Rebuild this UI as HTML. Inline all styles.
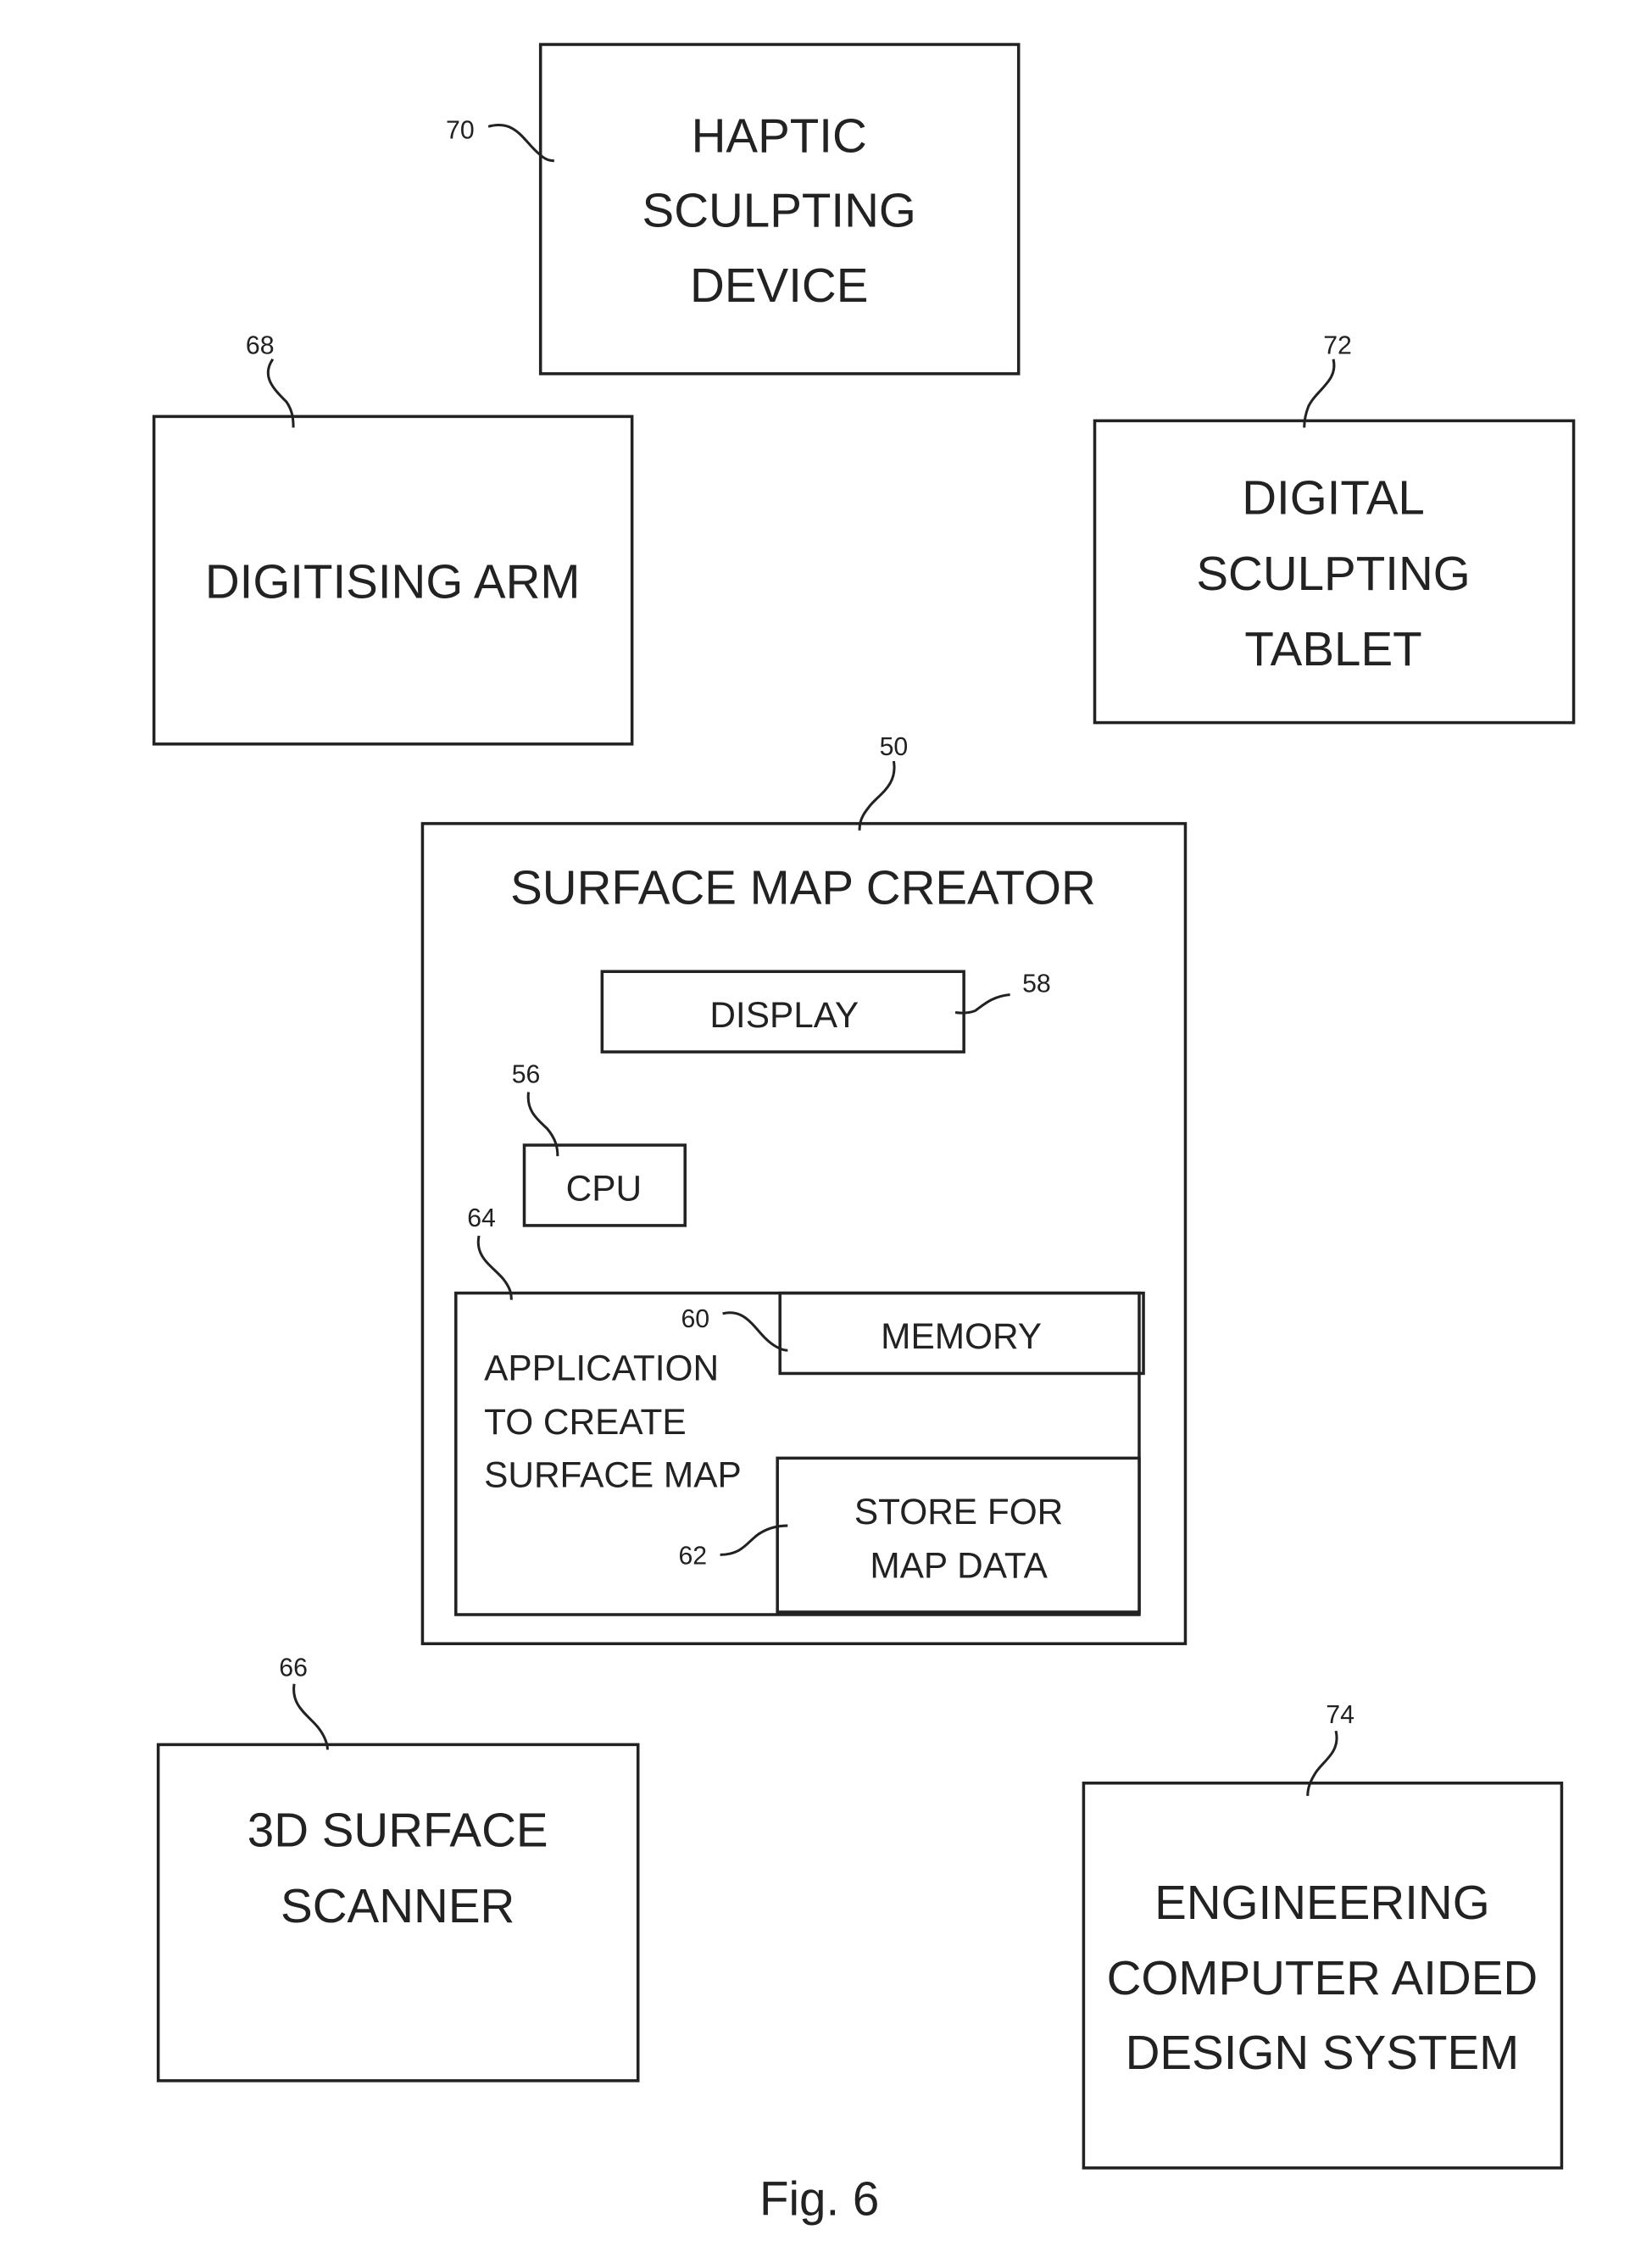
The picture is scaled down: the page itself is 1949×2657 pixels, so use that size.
<!DOCTYPE html>
<html><head><meta charset="utf-8"><style>
html,body{margin:0;padding:0;background:#fff;}
svg{display:block;}
text{font-family:"Liberation Sans",sans-serif;fill:#222;}
</style></head><body>
<svg width="1949" height="2657" viewBox="0 0 1949 2657" xmlns="http://www.w3.org/2000/svg">
<g transform="scale(1.009)">
<g fill="none" stroke="#222" stroke-width="3.5">
<rect x="632" y="52" width="559" height="385"/>
<rect x="180" y="487" width="559" height="383"/>
<rect x="1280" y="492" width="560" height="353"/>
<rect x="494" y="963" width="892" height="959"/>
<rect x="704" y="1136" width="423" height="94"/>
<rect x="613" y="1339" width="188" height="94"/>
<rect x="533" y="1512" width="799" height="376"/>
<rect x="912" y="1512" width="425" height="94"/>
<rect x="909" y="1705" width="423" height="180" fill="#fff"/>
<rect x="185" y="2040" width="561" height="393"/>
<rect x="1267" y="2085" width="559" height="450"/>
</g>
<g fill="none" stroke="#222" stroke-width="3">
<path d="M571,148 C600,140 610,160 625,175 C635,185 640,188 648,188"/>
<path d="M319,420 C305,440 320,455 335,470 C342,480 343,490 343,500"/>
<path d="M1559,420 C1565,445 1540,455 1530,475 C1526,485 1525,492 1525,500"/>
<path d="M1045,890 C1050,920 1025,930 1015,945 C1007,955 1005,962 1005,971"/>
<path d="M1181,1163 C1160,1165 1150,1175 1140,1182 C1130,1186 1120,1184 1117,1184"/>
<path d="M618,1277 C615,1300 630,1310 640,1320 C650,1332 652,1342 652,1352"/>
<path d="M560,1445 C555,1470 575,1480 588,1495 C596,1505 598,1512 598,1520"/>
<path d="M845,1536 C870,1530 880,1550 895,1565 C905,1575 915,1579 921,1579"/>
<path d="M842,1818 C870,1818 875,1800 890,1792 C900,1786 912,1784 921,1784"/>
<path d="M344,1969 C340,1995 360,2005 372,2020 C380,2030 383,2040 383,2046"/>
<path d="M1562,2024 C1568,2050 1545,2060 1537,2075 C1531,2085 1529,2092 1529,2100"/>
</g>
<g font-size="56" text-anchor="middle">
<text x="911" y="178">HAPTIC</text>
<text x="911" y="265">SCULPTING</text>
<text x="911" y="353">DEVICE</text>
<text x="459" y="699">DIGITISING ARM</text>
<text x="1559" y="601">DIGITAL</text>
<text x="1559" y="690">SCULPTING</text>
<text x="1559" y="778">TABLET</text>
<text x="939" y="1057">SURFACE MAP CREATOR</text>
<text x="465" y="2159">3D SURFACE</text>
<text x="465" y="2248">SCANNER</text>
<text x="1546" y="2244">ENGINEERING</text>
<text x="1546" y="2332">COMPUTER AIDED</text>
<text x="1546" y="2419">DESIGN SYSTEM</text>
<text x="958" y="2590">Fig. 6</text>
</g>
<g font-size="42" text-anchor="middle">
<text x="917" y="1201">DISPLAY</text>
<text x="706" y="1404">CPU</text>
<text x="1124" y="1577">MEMORY</text>
<text x="1121" y="1782">STORE FOR</text>
<text x="1121" y="1845">MAP DATA</text>
</g>
<g font-size="42">
<text x="566" y="1614">APPLICATION</text>
<text x="566" y="1677">TO CREATE</text>
<text x="566" y="1739">SURFACE MAP</text>
</g>
<g font-size="30" text-anchor="middle">
<text x="538" y="162">70</text>
<text x="304" y="414">68</text>
<text x="1564" y="414">72</text>
<text x="1045" y="883">50</text>
<text x="1212" y="1160">58</text>
<text x="615" y="1266">56</text>
<text x="563" y="1434">64</text>
<text x="813" y="1552">60</text>
<text x="810" y="1829">62</text>
<text x="343" y="1960">66</text>
<text x="1567" y="2015">74</text>
</g>
</g>
</svg>
</body></html>
